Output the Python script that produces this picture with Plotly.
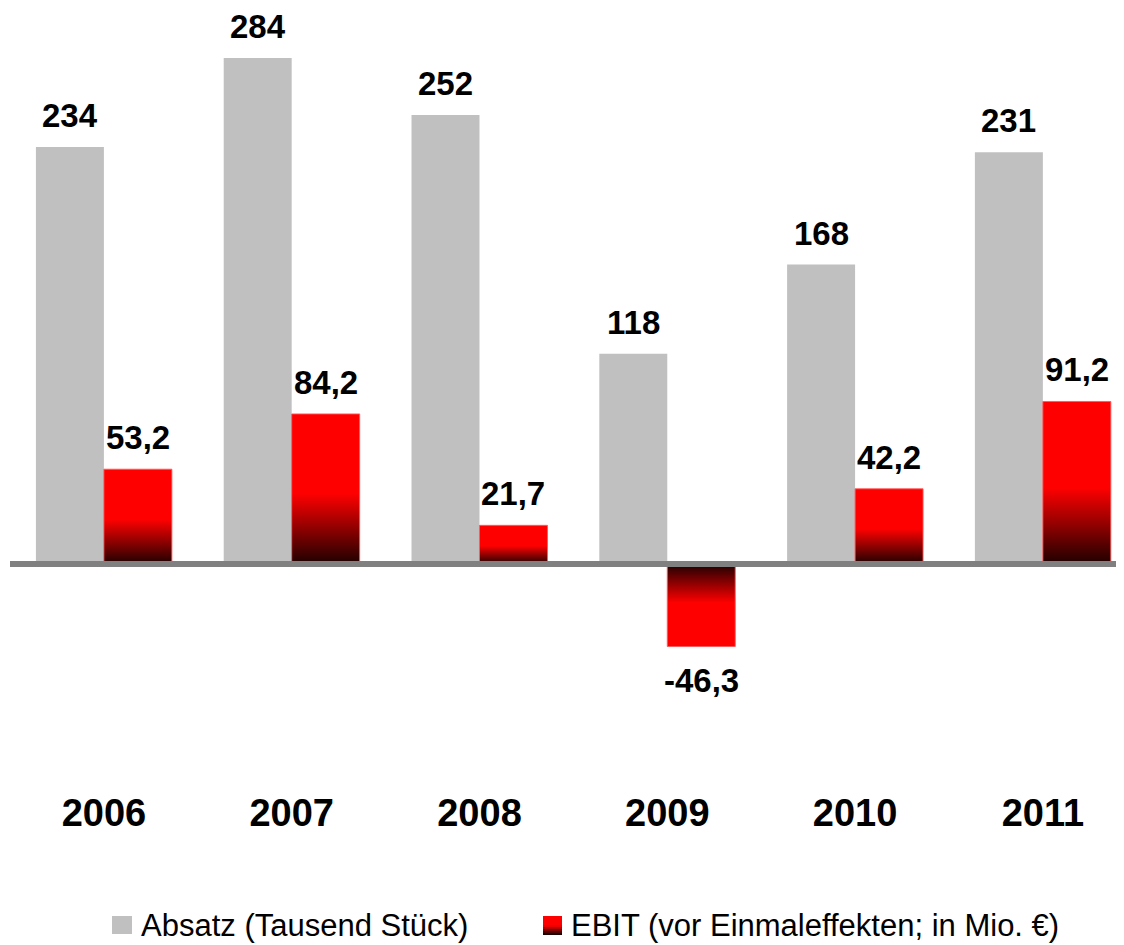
import plotly.graph_objects as go

# data
years = ["2006", "2007", "2008", "2009", "2010", "2011"]
absatz = [234, 284, 252, 118, 168, 231]
ebit = [53.2, 84.2, 21.7, -46.3, 42.2, 91.2]

GREY = "#c0c0c0"
RED = "#ff0000"
DARK = "#1e0000"
FONT = "Liberation Sans Narrow, Arial Narrow, Liberation Sans, Arial, sans-serif"
BAR_W = 0.362

# the page body adds an 8px margin, so the figure is 8px smaller each way
FIG_W, FIG_H = 1116, 937
PLOT_L, PLOT_T = 10, 8      # page coords of the plot area corner
PLOT_W, PLOT_H = 1114, 767


def fmt(v):
    return f"{v:.1f}".replace(".", ",")


def px_x(p):
    return (p - PLOT_L) / PLOT_W


def px_y(p):
    return (PLOT_T + PLOT_H - p) / PLOT_H


fig = go.Figure()

idx = list(range(len(years)))

fig.add_trace(go.Bar(
    x=idx, y=absatz, width=BAR_W, offset=-BAR_W,
    marker=dict(color=GREY, line=dict(width=0)),
    showlegend=False, hoverinfo="skip",
))

# red EBIT bars as filled rectangles so they can carry a vertical gradient
for i, v in zip(idx, ebit):
    lo, hi = min(v, 0), max(v, 0)
    if v >= 0:
        scale = [[0, DARK], [0.47, RED], [1, RED]]
    else:
        scale = [[0, RED], [0.53, RED], [1, DARK]]
    fig.add_trace(go.Scatter(
        x=[i, i + BAR_W, i + BAR_W, i, i],
        y=[lo, lo, hi, hi, lo],
        mode="lines", fill="toself",
        line=dict(color="rgba(255,90,90,0.9)", width=1),
        fillgradient=dict(type="vertical", colorscale=scale, start=lo, stop=hi),
        showlegend=False, hoverinfo="skip",
    ))

label_font = dict(family=FONT, size=33, color="black", weight="bold")
for i, v in zip(idx, absatz):
    fig.add_annotation(x=i - BAR_W / 2, y=v, text=str(v), showarrow=False,
                       yanchor="bottom", yshift=11, font=label_font)
for i, v in zip(idx, ebit):
    if v >= 0:
        fig.add_annotation(x=i + BAR_W / 2, y=v, text=fmt(v), showarrow=False,
                           yanchor="bottom", yshift=11, font=label_font)
    else:
        fig.add_annotation(x=i + BAR_W / 2, y=v, text=fmt(v), showarrow=False,
                           yanchor="top", yshift=-13, font=label_font)

# zero line
fig.add_shape(type="line", xref="paper", x0=0, x1=1, yref="y", y0=0, y1=0,
              line=dict(color="#808080", width=6))

# legend drawn by hand so the symbols can be large
legend_font = dict(family=FONT, size=31, color="black")
fig.add_shape(type="rect", xref="paper", yref="paper",
              x0=px_x(112), x1=px_x(132), y0=px_y(934), y1=px_y(916),
              fillcolor=GREY, line=dict(width=0))
fig.add_annotation(xref="paper", yref="paper", x=px_x(139), y=px_y(925),
                   text="Absatz (Tausend Stück)", showarrow=False,
                   xanchor="left", yanchor="middle", font=legend_font)
steps = 9
for k in range(steps):
    t = k / (steps - 1)
    f = min(1.0, t / 0.55)
    col = "rgb({},0,0)".format(int(0x1e + (255 - 0x1e) * f))
    fig.add_shape(type="rect", xref="paper", yref="paper",
                  x0=px_x(543), x1=px_x(562),
                  y0=px_y(935 - 2 * k), y1=px_y(935 - 2 * (k + 1) - (1 if k == steps - 1 else 0)),
                  fillcolor=col, line=dict(width=0))
fig.add_annotation(xref="paper", yref="paper", x=px_x(569), y=px_y(925),
                   text="EBIT (vor Einmaleffekten; in Mio. €)", showarrow=False,
                   xanchor="left", yanchor="middle", font=legend_font)

fig.update_layout(
    width=FIG_W, height=FIG_H,
    margin=dict(l=PLOT_L - 8, r=FIG_W - (PLOT_L - 8) - PLOT_W, t=PLOT_T - 8,
                b=FIG_H - PLOT_H - (PLOT_T - 8), autoexpand=False),
    plot_bgcolor="white", paper_bgcolor="white",
    showlegend=False,
    xaxis=dict(range=[-0.5, 5.432], tickvals=idx, ticktext=years,
               showgrid=False, zeroline=False, showline=False, ticks="",
               tickfont=dict(family=FONT, size=38, color="black", weight="bold"),
               ticklabelstandoff=12, automargin=False, fixedrange=True),
    yaxis=dict(range=[-118.4, 312.0], showgrid=False, zeroline=False,
               showline=False, showticklabels=False, ticks="",
               automargin=False, fixedrange=True),
)

fig.write_html("out.html")
